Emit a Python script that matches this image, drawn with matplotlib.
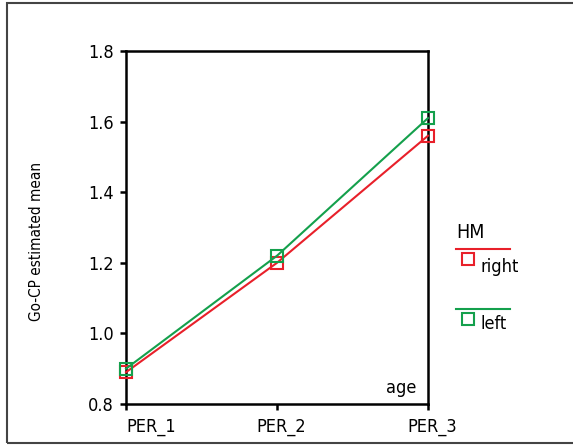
import matplotlib
matplotlib.use("Agg")
from matplotlib import pyplot as plt
from matplotlib.patches import Rectangle
from matplotlib.lines import Line2D
from matplotlib.transforms import ScaledTranslation

plt.rcParams['font.family'] = ['DejaVu Sans']
plt.rcParams['font.stretch'] = 'condensed'

# datos
periodos = ['PER_1', 'PER_2', 'PER_3']
media_right = [0.89, 1.20, 1.56]
media_left = [0.90, 1.22, 1.61]
yticks = [0.8, 1.0, 1.2, 1.4, 1.6, 1.8]

rojo = '#e8202a'
verde = '#14a04c'

fig = plt.figure(figsize=(5.73, 4.45), dpi=100)
ax = fig.add_axes([126/573, 41/445, 302/573, 353/445])

x = list(range(len(periodos)))
ax.plot(x, media_right, color=rojo, lw=1.5, marker='s', ms=8, mfc='none',
        mec=rojo, mew=1.5, clip_on=False, zorder=3)
ax.plot(x, media_left, color=verde, lw=1.5, marker='s', ms=8, mfc='none',
        mec=verde, mew=1.5, clip_on=False, zorder=3)

ax.set_xlim(0, 2)
ax.set_ylim(0.8, 1.8)
ax.set_xticks(x)
ax.set_xticklabels(periodos, fontsize=13)
ax.set_yticks(yticks)
ax.set_yticklabels([f'{v:.1f}' for v in yticks], fontsize=13)
for s in ax.spines.values():
    s.set_linewidth(1.8)
ax.tick_params(direction='out', length=4, width=1.8)
ax.tick_params(axis='x', pad=6)
ax.tick_params(axis='y', pad=5)

# PER_1 alineado a la izquierda, los otros un poco corridos
etiquetas = ax.get_xticklabels()
etiquetas[0].set_ha('left')
desplazar = ScaledTranslation(4/100, 0, fig.dpi_scale_trans)
for lab in etiquetas[1:]:
    lab.set_transform(lab.get_transform() + desplazar)

ax.text(0.96, 0.02, 'age', transform=ax.transAxes, ha='right', va='bottom', fontsize=13)

fig.text(37/573, 1 - 241/445, 'Go-CP estimated mean', rotation=90,
         ha='center', va='center', fontsize=11)

# leyenda a mano
fig.text(456/573, 1 - 233/445, 'HM', fontsize=14, ha='left', va='center')
fig.lines.append(Line2D([456/573, 510/573], [1 - 249/445] * 2, color=rojo, lw=1.5,
                        transform=fig.transFigure))
fig.lines.append(Line2D([468/573], [1 - 259/445], color=rojo, marker='s', ms=8, mfc='none',
                        mec=rojo, mew=1.5, transform=fig.transFigure))
fig.text(481/573, 1 - 267/445, 'right', fontsize=13, ha='left', va='center')
fig.lines.append(Line2D([456/573, 510/573], [1 - 309/445] * 2, color=verde, lw=1.5,
                        transform=fig.transFigure))
fig.lines.append(Line2D([468/573], [1 - 319/445], color=verde, marker='s', ms=8, mfc='none',
                        mec=verde, mew=1.5, transform=fig.transFigure))
fig.text(481/573, 1 - 324/445, 'left', fontsize=13, ha='left', va='center')

# marco exterior
fig.patches.append(Rectangle((7/573, 2/445), 1.2, 440/445, fill=False, ec='#444444',
                             lw=1.5, transform=fig.transFigure))

fig.savefig('out.png', dpi=100)
